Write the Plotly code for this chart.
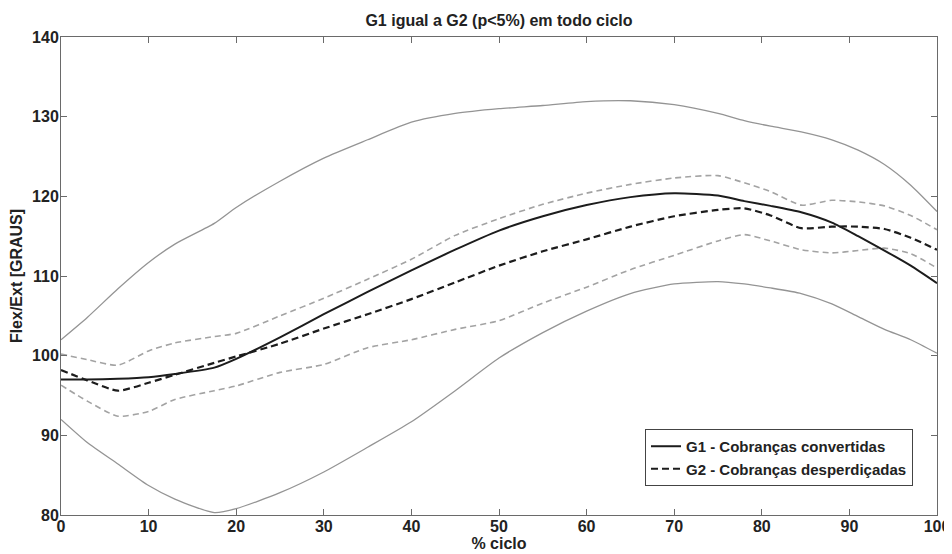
import plotly.graph_objects as go

# % cycle sample points
x_ciclo = [0, 3, 6.5, 10, 13, 17.5, 20, 25, 30, 35, 40, 45, 50, 55, 60, 65, 70,
           75, 78, 81, 84.5, 88, 91, 94, 97, 100]

# G1 - mean and +/- SD band (solid)
g1_mean = [97.0, 97.0, 97.1, 97.3, 97.7, 98.5, 99.6, 102.3, 105.2, 108.0, 110.7,
           113.3, 115.7, 117.5, 118.9, 119.9, 120.4, 120.1, 119.4, 118.8, 118.0,
           116.7, 115.0, 113.2, 111.3, 109.1]
g1_upper = [102.0, 104.8, 108.4, 111.7, 114.0, 116.6, 118.6, 121.9, 124.8, 127.1,
            129.3, 130.4, 131.0, 131.4, 131.9, 132.0, 131.5, 130.4, 129.5, 128.8,
            128.1, 127.1, 125.8, 124.0, 121.4, 118.1]
g1_lower = [92.0, 89.1, 86.4, 83.7, 82.0, 80.3, 80.8, 82.8, 85.4, 88.5, 91.7, 95.6,
            99.7, 102.9, 105.6, 107.8, 109.0, 109.3, 109.0, 108.5, 107.8, 106.5,
            104.9, 103.3, 102.0, 100.3]

# G2 - mean and +/- SD band (dashed)
g2_mean = [98.2, 96.9, 95.6, 96.6, 97.6, 99.1, 99.9, 101.5, 103.4, 105.2, 107.1,
           109.2, 111.3, 113.1, 114.6, 116.2, 117.5, 118.3, 118.5, 117.6, 116.0,
           116.2, 116.2, 115.9, 114.8, 113.3]
g2_upper = [100.2, 99.5, 98.8, 100.6, 101.6, 102.4, 102.8, 105.0, 107.2, 109.6,
            112.1, 115.1, 117.2, 119.0, 120.4, 121.5, 122.3, 122.6, 121.7, 120.6,
            118.9, 119.5, 119.3, 118.8, 117.6, 115.8]
g2_lower = [96.3, 94.3, 92.4, 93.0, 94.5, 95.6, 96.2, 97.9, 98.9, 101.0, 102.0,
            103.3, 104.4, 106.6, 108.6, 110.8, 112.6, 114.4, 115.2, 114.4, 113.3,
            112.9, 113.2, 113.5, 112.8, 111.0]

x_ticks = [0, 10, 20, 30, 40, 50, 60, 70, 80, 90, 100]
y_ticks = [80, 90, 100, 110, 120, 130, 140]

title_text = "G1 igual a G2 (p<5%) em todo ciclo"
x_label = "% ciclo"
y_label = "Flex/Ext [GRAUS]"
name_g1 = "G1 - Cobranças convertidas"
name_g2 = "G2 - Cobranças desperdiçadas"

FONT = "Liberation Sans, Arial, sans-serif"
FS = 16
GRAY_SOLID = "#949494"
GRAY_DASH = "#a3a3a3"
BLACK = "#1c1c1c"
TXT = "#222222"

# the page adds an 8px body margin, so the figure is 8px smaller each way
W, H = 944, 546

fig = go.Figure()
shape = dict(shape="spline", smoothing=0.6)

fig.add_trace(go.Scatter(x=x_ciclo, y=g1_upper, mode="lines", showlegend=False,
                         line=dict(color=GRAY_SOLID, width=1.3, **shape)))
fig.add_trace(go.Scatter(x=x_ciclo, y=g1_lower, mode="lines", showlegend=False,
                         line=dict(color=GRAY_SOLID, width=1.3, **shape)))
fig.add_trace(go.Scatter(x=x_ciclo, y=g2_upper, mode="lines", showlegend=False,
                         line=dict(color=GRAY_DASH, width=1.6, dash="6px,4px", **shape)))
fig.add_trace(go.Scatter(x=x_ciclo, y=g2_lower, mode="lines", showlegend=False,
                         line=dict(color=GRAY_DASH, width=1.6, dash="6px,4px", **shape)))
fig.add_trace(go.Scatter(x=x_ciclo, y=g1_mean, mode="lines", name=name_g1,
                         line=dict(color=BLACK, width=2, **shape)))
fig.add_trace(go.Scatter(x=x_ciclo, y=g2_mean, mode="lines", name=name_g2,
                         line=dict(color=BLACK, width=2.2, dash="7px,4px", **shape)))

axis_common = dict(
    showline=True, linecolor="#6a6a6a", linewidth=1, mirror="ticks",
    ticks="inside", ticklen=6, tickcolor="#6a6a6a", tickwidth=1,
    showgrid=False, zeroline=False, automargin=False,
    tickfont=dict(family=FONT, size=FS, color=TXT, weight="bold"),
)

fig.update_xaxes(range=[0, 100], tickvals=x_ticks, ticklabelstandoff=-3,
                 title=dict(text=x_label, standoff=0,
                            font=dict(family=FONT, size=FS, color=TXT, weight="bold")),
                 **axis_common)
fig.update_yaxes(range=[80, 140], tickvals=y_ticks, ticklabelstandoff=-2,
                 title=dict(text=y_label, standoff=8,
                            font=dict(family=FONT, size=FS, color=TXT, weight="bold")),
                 **axis_common)

fig.update_layout(
    width=W, height=H,
    margin=dict(l=53, r=15, t=29, b=39),
    paper_bgcolor="white", plot_bgcolor="white",
    title=dict(text=title_text, x=0.5, xref="paper", xanchor="center",
               y=1 - 12 / H, yanchor="middle",
               font=dict(family=FONT, size=FS, color=TXT, weight="bold")),
    legend=dict(x=0.9726, xanchor="right", y=0.0607, yanchor="bottom",
                bgcolor="white", bordercolor="#444", borderwidth=1,
                font=dict(family=FONT, size=15, color=TXT, weight="bold"),
                tracegroupgap=0, itemwidth=30),
    showlegend=True,
)

fig.write_html("out.html")
